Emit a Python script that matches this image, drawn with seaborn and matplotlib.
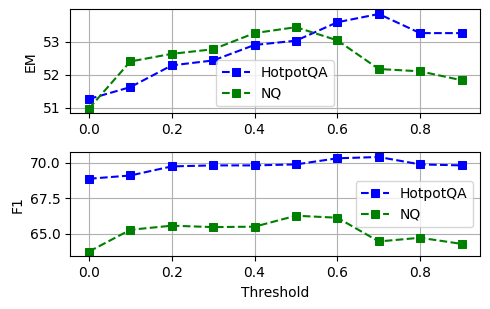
import numpy as np
import pandas as pd
import matplotlib
matplotlib.use("Agg")
import matplotlib.pyplot as plt
import seaborn as sns

threshold = [0.0, 0.1, 0.2, 0.3, 0.4, 0.5, 0.6, 0.7, 0.8, 0.9]
em_hotpot = [51.26, 51.62, 52.28, 52.43, 52.90, 53.03, 53.59, 53.84, 53.26, 53.26]
em_nq = [50.97, 52.40, 52.63, 52.77, 53.26, 53.44, 53.04, 52.17, 52.10, 51.83]
f1_hotpot = [68.87, 69.10, 69.74, 69.81, 69.81, 69.88, 70.31, 70.40, 69.88, 69.81]
f1_nq = [63.75, 65.28, 65.57, 65.47, 65.50, 66.27, 66.13, 64.46, 64.72, 64.29]

fig, axes = plt.subplots(2, 1, figsize=(4.9, 3.09), dpi=100)

for ax, hp, nq, ylab, loc in [
    (axes[0], em_hotpot, em_nq, "EM", "lower center"),
    (axes[1], f1_hotpot, f1_nq, "F1", "center right"),
]:
    sns.lineplot(x=threshold, y=hp, ax=ax, color="b", marker="s", linestyle="--",
                 markeredgecolor="b", markersize=6, label="HotpotQA")
    sns.lineplot(x=threshold, y=nq, ax=ax, color="g", marker="s", linestyle="--",
                 markeredgecolor="g", markersize=6, label="NQ")
    ax.set_ylabel(ylab)
    ax.grid(True)
    ax.legend(loc=loc)

axes[1].set_yticks([65.0, 67.5, 70.0])
axes[1].set_xlabel("Threshold")

fig.subplots_adjust(left=0.1435, right=0.980, top=0.970, bottom=0.1706, hspace=0.375)
plt.savefig("out.png")
